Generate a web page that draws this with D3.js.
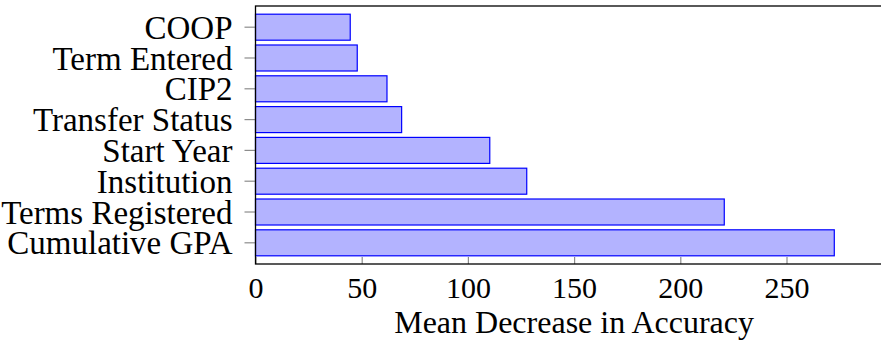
<!DOCTYPE html>
<html>
<head>
<meta charset="utf-8">
<script src="https://cdn.jsdelivr.net/npm/d3@7"></script>
<style>
  body { margin: 0; background: #fff; }
</style>
</head>
<body>
<div id="chart"></div>
<script>
// feature importance, top to bottom
var features = ["COOP", "Term Entered", "CIP2", "Transfer Status", "Start Year",
                "Institution", "Terms Registered", "Cumulative GPA"];
var meanDecrease = [44.6, 47.9, 61.9, 68.8, 110.3, 127.7, 220.7, 272.5];
var xTicks = [0, 50, 100, 150, 200, 250];
var xTitle = "Mean Decrease in Accuracy";

var width = 881, height = 343;
var plotLeft = 255.5, plotTop = 6, plotBottom = 264;
var serif = "'Liberation Serif', 'DejaVu Serif', serif";

var svg = d3.select("#chart").append("svg")
	.attr("width", width)
	.attr("height", height)
	.style("font-family", serif);

var x = d3.scaleLinear()
	.domain([0, 300])
	.range([plotLeft, plotLeft + 300 * 2.124]);

var y = d3.scaleBand()
	.domain(features)
	.range([plotTop, plotBottom])
	.paddingInner(0.156)
	.paddingOuter(0.266);

var data = features.map(function(f, i) { return { name: f, value: meanDecrease[i] }; });

// bars
svg.append("g").selectAll("rect")
	.data(data)
	.enter().append("rect")
	.attr("x", x(0))
	.attr("y", function(d) { return y(d.name); })
	.attr("width", function(d) { return x(d.value) - x(0); })
	.attr("height", y.bandwidth())
	.style("fill", "#b3b3ff")
	.style("stroke", "#0000ff")
	.style("stroke-width", 1.2);

// x axis (ticks pointing inward)
var xAxis = svg.append("g")
	.attr("transform", "translate(0," + plotBottom + ")")
	.call(d3.axisBottom(x).tickValues(xTicks).tickSizeInner(-7).tickSizeOuter(0));
xAxis.attr("font-family", null);
xAxis.select(".domain").remove();
xAxis.selectAll(".tick line").attr("stroke", "#8c8c8c").attr("stroke-width", 1.2);
xAxis.selectAll(".tick text")
	.attr("y", 34)
	.attr("dy", null)
	.style("font-family", serif)
	.style("font-size", "30px");

// y axis
var yAxis = svg.append("g")
	.attr("transform", "translate(" + plotLeft + ",0)")
	.call(d3.axisLeft(y).tickSizeInner(11).tickSizeOuter(0).tickPadding(12));
yAxis.attr("font-family", null);
yAxis.select(".domain").remove();
yAxis.selectAll(".tick line").attr("stroke", "#8c8c8c").attr("stroke-width", 1.2);
yAxis.selectAll(".tick text")
	.attr("dy", "0.35em")
	.style("font-family", serif)
	.style("font-size", "33px");

// axis frame
svg.append("rect")
	.attr("x", x(0))
	.attr("y", plotTop)
	.attr("width", x(300) - x(0))
	.attr("height", plotBottom - plotTop)
	.style("fill", "none")
	.style("stroke", "#000")
	.style("stroke-width", 1.3);

svg.append("text")
	.attr("x", (x(0) + x(300)) / 2)
	.attr("y", 333)
	.attr("text-anchor", "middle")
	.style("font-family", serif)
	.style("font-size", "32px")
	.text(xTitle);
</script>
</body>
</html>
